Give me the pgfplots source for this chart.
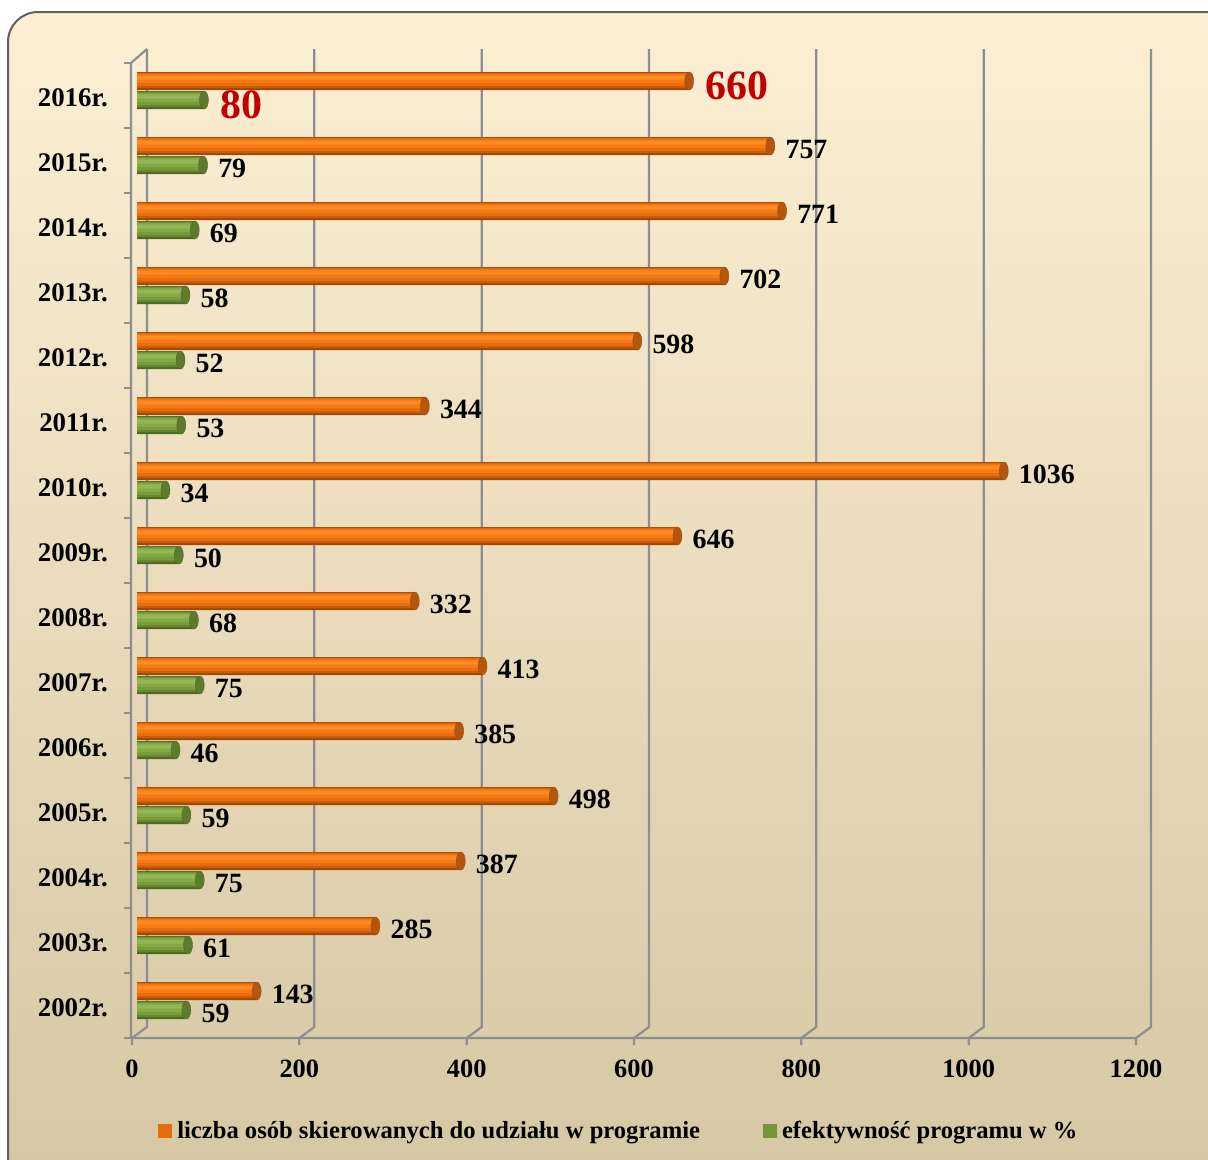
\documentclass[border=0pt]{standalone}
\usepackage{fontspec}
\setmainfont{Liberation Serif}
\usepackage{pgfplots}
\usepackage{pgfplotstable}
\pgfplotsset{compat=1.18}
\pgfplotsset{/pgf/number format/assume math mode=true, /pgf/number format/1000 sep={}}
\definecolor{bgTop}{HTML}{FDEFD3}
\definecolor{bgBot}{HTML}{D5C7A3}
\definecolor{gridc}{HTML}{8E8E8E}
\definecolor{oA}{HTML}{A24805}
\definecolor{oB}{HTML}{C85D0B}
\definecolor{oC}{HTML}{E66E10}
\definecolor{oD}{HTML}{F77A13}
\definecolor{oE}{HTML}{FF8A26}
\definecolor{oCap}{HTML}{B5560F}
\definecolor{gA}{HTML}{4E6922}
\definecolor{gB}{HTML}{668630}
\definecolor{gC}{HTML}{789B3C}
\definecolor{gD}{HTML}{85A946}
\definecolor{gE}{HTML}{93B754}
\definecolor{gCap}{HTML}{5E7B2C}
\definecolor{legO}{HTML}{E46C0A}
\definecolor{legG}{HTML}{77933C}
\definecolor{redlab}{HTML}{C00000}
\pgfdeclareplotmark{capmark}{\pgfpathellipse{\pgfpointorigin}{\pgfpoint{4.5bp}{0bp}}{\pgfpoint{0bp}{9bp}}\pgfusepathqfillstroke}
\pgfplotstableread{
i o g
0 143 59
1 285 61
2 387 75
3 498 59
4 385 46
5 413 75
6 332 68
7 646 50
8 1036 34
9 344 53
10 598 52
11 702 58
12 771 69
13 757 79
14 660 80
}\data
\pgfplotsset{bl/.style n args={3}{xbar, forget plot, draw=none, fill=#1, bar width=#2, bar shift=#3}}
\begin{document}
\begin{tikzpicture}[x=1bp,y=1bp]
\useasboundingbox (0,0) rectangle (1208,-1160);
\clip (0,0) rectangle (1208,-1160);
\shadedraw[top color=bgTop, bottom color=bgBot, draw=gray!75!black, line width=2bp, rounded corners=30bp] (8,-12) rectangle (1240,-1195);
\begin{scope}[draw=gridc, line width=2.2bp]
\foreach \k in {0,...,6} {
  \draw ({147+167.33*\k},-49) -- ({147+167.33*\k},-1027) -- ({132+167.33*\k},-1038) -- ({132+167.33*\k},-1045);
}
\draw (147,-49) -- (131,-63) -- (131,-1038) -- (1136,-1038);
\foreach \j in {0,...,15} \draw (124,{-63-65*\j}) -- (131,{-63-65*\j});
\end{scope}
\begin{axis}[
  at={(137bp,-1033bp)}, anchor=south west,
  scale only axis, width=1004bp, height=975bp,
  xmin=0, xmax=1200, ymin=-0.5, ymax=14.5,
  clip=false,
  axis line style={draw=none}, major tick length=0pt,
  xtick={0,200,...,1200}, xticklabels={0,200,400,600,800,1000,1200},
  ytick={0,...,14},
  yticklabels={2002r.,2003r.,2004r.,2005r.,2006r.,2007r.,2008r.,2009r.,2010r.,2011r.,2012r.,2013r.,2014r.,2015r.,2016r.},
  xticklabel style={anchor=center, inner sep=0pt, xshift=-5bp, yshift=-36bp, font=\fontsize{26.5}{30}\selectfont\bfseries},
  yticklabel style={anchor=east, inner sep=0pt, xshift=-29bp, yshift=-7bp, font=\fontsize{27}{30}\selectfont\bfseries},
  legend style={at={(0.479,-0.1005)}, anchor=center, draw=none, fill=none, legend columns=2,
    font=\fontsize{24.7}{28}\selectfont\bfseries, nodes={inner sep=0pt},
    /tikz/every odd column/.append style={column sep=5bp},
    /tikz/every even column/.append style={column sep=63bp}},
  every node near coord/.append style={anchor=west, inner sep=0pt},
]
\addplot[xbar, draw=none, fill=oA, bar width=18bp, bar shift=9.5bp,
  legend image code/.code={\fill[legO] (0bp,-7bp) rectangle (14bp,7bp);}]
  table[x=o, y=i] {\data};
\addlegendentry{liczba osób skierowanych do udziału w programie}
\addplot[xbar, draw=none, fill=gA, bar width=18bp, bar shift=-9.5bp,
  legend image code/.code={\fill[legG] (0bp,-7bp) rectangle (14bp,7bp);}]
  table[x=g, y=i] {\data};
\addlegendentry{efektywność programu w \%}
\addplot[bl={oB}{15.5bp}{10.25bp}] table[x=o, y=i] {\data};
\addplot[bl={oC}{12.5bp}{11bp}] table[x=o, y=i] {\data};
\addplot[bl={oD}{8.5bp}{12bp}] table[x=o, y=i] {\data};
\addplot[bl={oE}{4bp}{13bp}] table[x=o, y=i] {\data};
\addplot[bl={gB}{15.5bp}{-8.75bp}] table[x=g, y=i] {\data};
\addplot[bl={gC}{12.5bp}{-8bp}] table[x=g, y=i] {\data};
\addplot[bl={gD}{8.5bp}{-7bp}] table[x=g, y=i] {\data};
\addplot[bl={gE}{4bp}{-6bp}] table[x=g, y=i] {\data};
\addplot[forget plot, only marks, mark=capmark, mark options={fill=oCap, draw=oA, line width=0.4bp}]
  table[x=o, y expr=\thisrow{i}+0.14615] {\data};
\addplot[forget plot, only marks, mark=capmark, mark options={fill=gCap, draw=gA, line width=0.4bp}]
  table[x=g, y expr=\thisrow{i}-0.14615] {\data};
\addplot[forget plot, xbar, bar width=18bp, bar shift=9.5bp, draw=none, fill=none,
  restrict y to domain=0:13, nodes near coords,
  every node near coord/.append style={xshift=15bp, yshift=6.5bp, font=\fontsize{28}{30}\selectfont\bfseries, text=black}]
  table[x=o, y=i] {\data};
\addplot[forget plot, xbar, bar width=18bp, bar shift=-9.5bp, draw=none, fill=none,
  restrict y to domain=0:13, nodes near coords,
  every node near coord/.append style={xshift=15bp, yshift=-12.5bp, font=\fontsize{28}{30}\selectfont\bfseries, text=black}]
  table[x=g, y=i] {\data};
\addplot[forget plot, xbar, bar width=18bp, bar shift=9.5bp, draw=none, fill=none,
  restrict y to domain=14:14, nodes near coords,
  every node near coord/.append style={xshift=16bp, yshift=4.5bp, font=\fontsize{42}{46}\selectfont\bfseries, text=redlab}]
  table[x=o, y=i] {\data};
\addplot[forget plot, xbar, bar width=18bp, bar shift=-9.5bp, draw=none, fill=none,
  restrict y to domain=14:14, nodes near coords,
  every node near coord/.append style={xshift=16bp, yshift=-14.5bp, font=\fontsize{42}{46}\selectfont\bfseries, text=redlab}]
  table[x=g, y=i] {\data};
\end{axis}
\end{tikzpicture}
\end{document}
